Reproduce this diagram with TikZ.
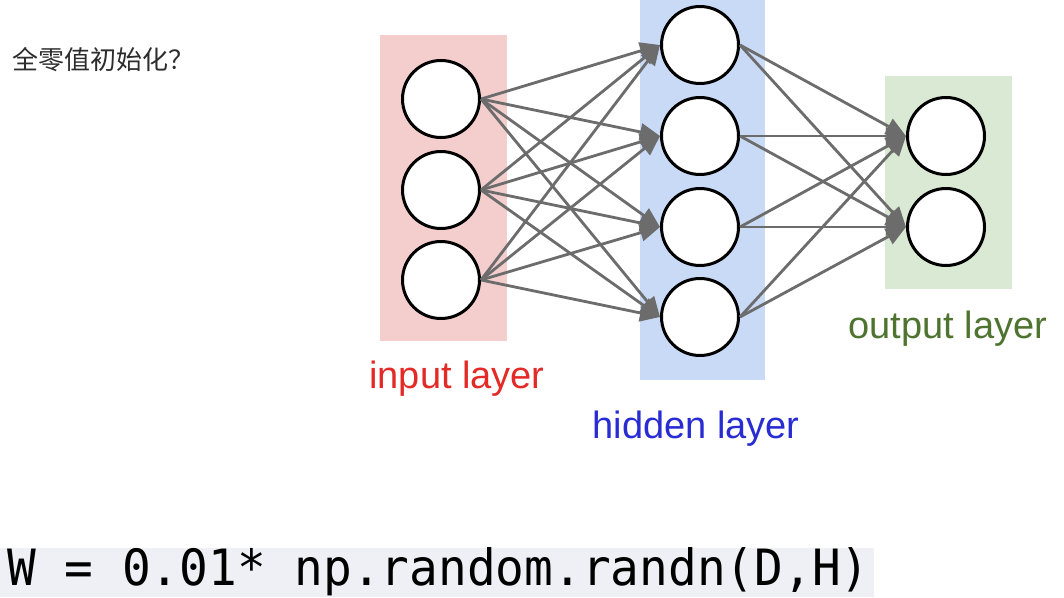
\documentclass[tikz,border=0pt]{standalone}
\usepackage{fontspec}
\setmainfont{Liberation Sans}
\newfontfamily\cjk{Noto Sans CJK SC}
\newfontfamily\codefont{DejaVu Sans Mono}
\usetikzlibrary{arrows.meta}
\definecolor{inbg}{RGB}{244,205,205}
\definecolor{hidbg}{RGB}{201,218,246}
\definecolor{outbg}{RGB}{217,233,211}
\definecolor{inred}{RGB}{228,42,38}
\definecolor{hidblue}{RGB}{40,44,210}
\definecolor{outgreen}{RGB}{78,116,48}
\definecolor{edgegray}{RGB}{108,108,108}
\definecolor{codebg}{RGB}{238,240,245}
\tikzset{
  neuron/.style={circle, draw=black, line width=3pt, fill=white, minimum size=77pt, inner sep=0pt},
  conn/.style={draw=edgegray, line width=2.8pt, -{Triangle[length=20pt,width=17pt]}},
  layerlabel/.style={font=\fontsize{38}{40}\selectfont, anchor=base, inner sep=0pt},
}
\begin{document}
\begin{tikzpicture}[x=1pt,y=-1pt]
\useasboundingbox (0,0) rectangle (1064,597);
\fill[white] (0,0) rectangle (1064,597);
% layer backgrounds
\fill[inbg] (380,35) rectangle (507,341);
\fill[hidbg] (640,0) rectangle (765,380);
\fill[outbg] (885,76) rectangle (1012,289);
% neurons
\node[neuron] (i1) at (441,99) {};
\node[neuron] (i2) at (441,190) {};
\node[neuron] (i3) at (441,280) {};
\node[neuron] (h1) at (700,45) {};
\node[neuron] (h2) at (700,136) {};
\node[neuron] (h3) at (700,227) {};
\node[neuron] (h4) at (700,317) {};
\node[neuron] (o1) at (946,136) {};
\node[neuron] (o2) at (946,227) {};
% connections
\foreach \a in {i1,i2,i3}{
  \foreach \b in {h1,h2,h3,h4}{
    \draw[conn] (\a.east) -- (\b.west);
  }
}
\foreach \a in {h1,h2,h3,h4}{
  \foreach \b in {o1,o2}{
    \draw[conn] (\a.east) -- (\b.west);
  }
}
% labels
\node[layerlabel, text=inred] (li) at (457,388) {input layer};
\node[layerlabel, text=hidblue] (lh) at (696,438) {hidden layer};
\node[layerlabel, text=outgreen] (lo) at (948,338) {output layer};
\node[anchor=west, inner sep=0pt, text={rgb,255:red,45;green,45;blue,45}, font=\cjk\fontsize{26}{30}\selectfont] (title) at (12,60) {全零值初始化？};
% code line
\fill[codebg] (0,548) rectangle (874,597);
\node[anchor=base west, inner sep=0pt, font=\codefont] (code) at (7,585) {\scalebox{0.955}[1]{\fontsize{50}{54}\selectfont W = 0.01* np.random.randn(D,H)}};
\end{tikzpicture}
\end{document}
